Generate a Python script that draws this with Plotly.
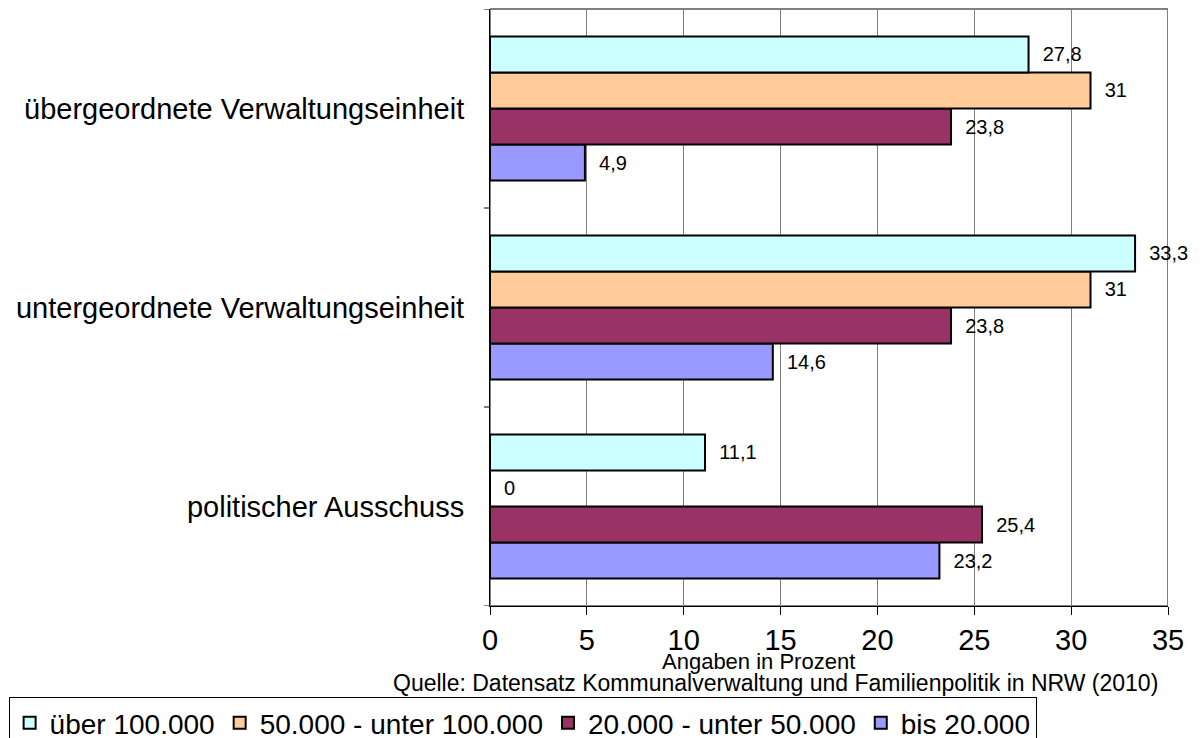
import plotly.graph_objects as go

# Kategorien (von unten nach oben, wie die y-Achse sie anordnet)
categories = [
    "politischer Ausschuss",
    "untergeordnete Verwaltungseinheit",
    "übergeordnete Verwaltungseinheit",
]

# Gemeindegrößenklassen und Anteile in Prozent, je Kategorie in obiger Reihenfolge
series_names = ["über 100.000", "50.000 - unter 100.000", "20.000 - unter 50.000", "bis 20.000"]
ueber_100000 = [11.1, 33.3, 27.8]
von_50000_bis_100000 = [0.0, 31.0, 31.0]
von_20000_bis_50000 = [25.4, 23.8, 23.8]
bis_20000 = [23.2, 14.6, 4.9]

x_ticks = [0, 5, 10, 15, 20, 25, 30, 35]

series_values = [ueber_100000, von_50000_bis_100000, von_20000_bis_50000, bis_20000]
series_colors = ["#CCFFFF", "#FFCC99", "#993366", "#9999FF"]

FONT = "Liberation Sans, Arial, sans-serif"
NBSP = "\u00a0"

fig = go.Figure()

# Gruppierte Balken werden von unten nach oben gesetzt: daher umgekehrt hinzufügen,
# damit "über 100.000" oben in jeder Gruppe steht.
for rank, (name, vals, col) in reversed(list(enumerate(zip(series_names, series_values, series_colors)))):
    fig.add_trace(go.Bar(
        y=categories,
        x=vals,
        name=name,
        orientation="h",
        marker=dict(color=col, line=dict(color="black", width=2)),
        text=[NBSP * 2 + f"{v:g}".replace(".", ",") for v in vals],
        textposition="outside",
        textfont=dict(family=FONT, size=20, color="black"),
        cliponaxis=False,
        legendrank=rank + 1,
    ))

shapes = [
    # Rahmen der Zeichenfläche (grau)
    dict(type="rect", xref="x", yref="paper", x0=0, x1=35, y0=0, y1=1,
         line=dict(color="#808080", width=2), layer="below"),
]
# Teilstriche der Kategorienachse an den Gruppengrenzen
for yb in [-0.5, 0.5, 1.5, 2.5]:
    shapes.append(dict(type="line", xref="paper", yref="y", x0=-0.009, x1=0, y0=yb, y1=yb,
                       line=dict(color="black", width=1)))

fig.update_layout(
    width=1203, height=738,
    margin=dict(l=490, r=35, t=9, b=132, autoexpand=False),
    paper_bgcolor="white", plot_bgcolor="white",
    barmode="group", bargap=0.276, bargroupgap=0,
    font=dict(family=FONT, color="black"),
    showlegend=True,
    legend=dict(
        orientation="h",
        xref="paper", yref="paper",
        x=-0.71, y=-0.1524, xanchor="left", yanchor="top",
        bordercolor="black", borderwidth=1,
        font=dict(family=FONT, size=28, color="black"),
        itemwidth=30,
        tracegroupgap=0,
    ),
    xaxis=dict(
        range=[0, 35], tickvals=x_ticks, ticktext=[str(t) for t in x_ticks],
        showgrid=True, gridcolor="#808080", gridwidth=1,
        showline=True, linecolor="black", linewidth=1,
        ticks="outside", ticklen=8, tickcolor="black",
        tickfont=dict(family=FONT, size=29, color="black"),
        zeroline=False, automargin=False,
    ),
    yaxis=dict(
        categoryorder="array", categoryarray=categories,
        range=[-0.5, 2.5],
        showgrid=False, showline=True, linecolor="black", linewidth=1,
        ticks="", ticklabelstandoff=19, automargin=False,
        tickfont=dict(family=FONT, size=29, color="black"),
    ),
    shapes=shapes,
    annotations=[
        dict(text="Angaben in Prozent",
             xref="paper", yref="paper", x=0.396, y=-0.0938, xanchor="center", yanchor="middle",
             showarrow=False, font=dict(family=FONT, size=22, color="black")),
        dict(text="Quelle: Datensatz Kommunalverwaltung und Familienpolitik in NRW (2010)",
             xref="paper", yref="paper", x=0.988, y=-0.1295, xanchor="right", yanchor="middle",
             showarrow=False, font=dict(family=FONT, size=23, color="black")),
    ],
)

fig.write_html("out.html")
